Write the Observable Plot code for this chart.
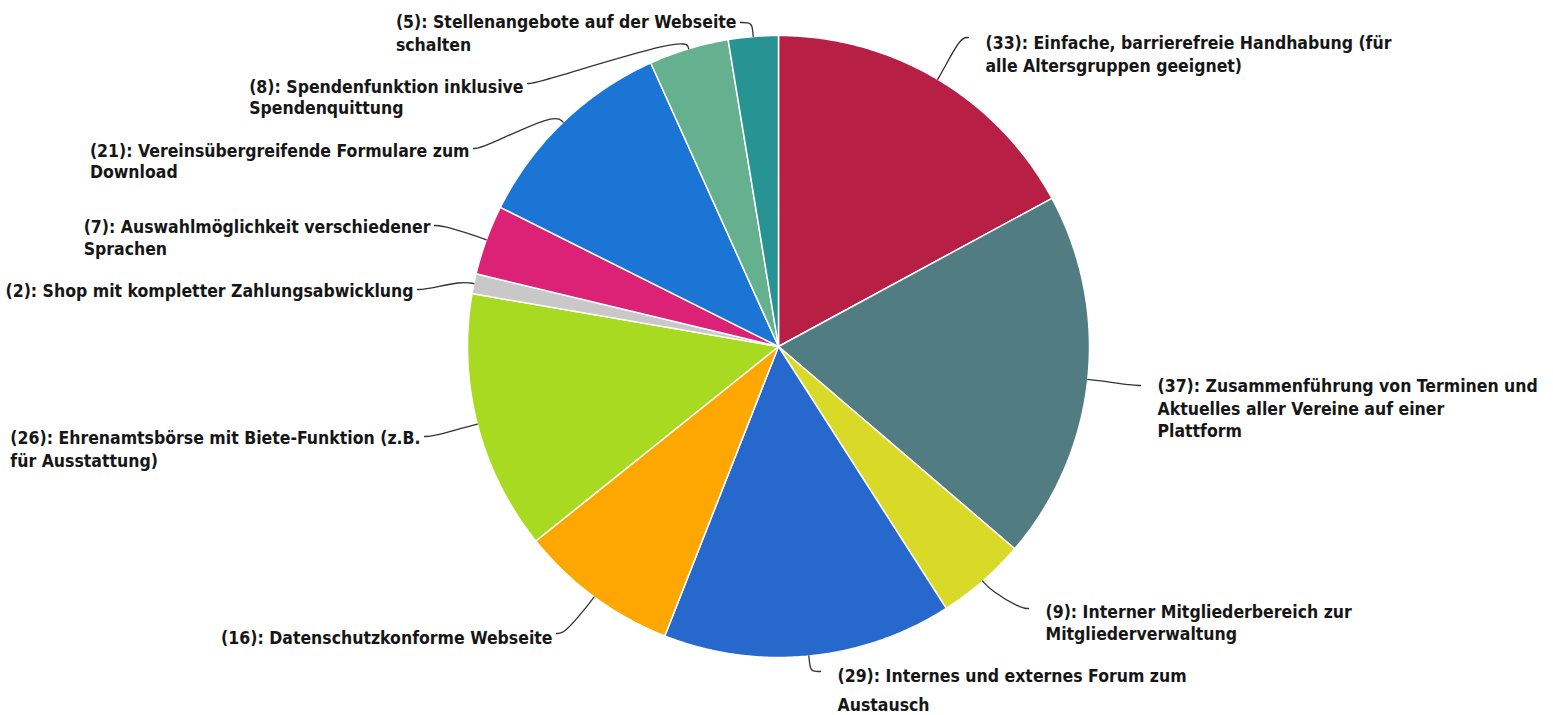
<!DOCTYPE html>
<html>
<head>
<meta charset="utf-8">
<script src="https://cdn.jsdelivr.net/npm/d3@7"></script>
<script src="https://cdn.jsdelivr.net/npm/@observablehq/plot@0.6"></script>
<style>
  html, body { margin: 0; padding: 0; background: #fff; }
  #chart svg { display: block; }
</style>
</head>
<body>
<div id="chart"></div>
<script>
// ---- data ----
const categories = [
  "Einfache, barrierefreie Handhabung (für alle Altersgruppen geeignet)",
  "Zusammenführung von Terminen und Aktuelles aller Vereine auf einer Plattform",
  "Interner Mitgliederbereich zur Mitgliederverwaltung",
  "Internes und externes Forum zum Austausch",
  "Datenschutzkonforme Webseite",
  "Ehrenamtsbörse mit Biete-Funktion (z.B. für Ausstattung)",
  "Shop mit kompletter Zahlungsabwicklung",
  "Auswahlmöglichkeit verschiedener Sprachen",
  "Vereinsübergreifende Formulare zum Download",
  "Spendenfunktion inklusive Spendenquittung",
  "Stellenangebote auf der Webseite schalten"
];
const values = [33, 37, 9, 29, 16, 26, 2, 7, 21, 8, 5];
const colors = ["#b71f45", "#517c82", "#d9d927", "#2768cc", "#fda700", "#a8da22",
                "#c8c8c8", "#db2277", "#1a75d4", "#65b08f", "#279393"];

// ---- layout (positions only) ----
const W = 1553, H = 715;
const cx = 778, cy = 346, R = 311;
const FONT_SIZE = 17.5;
const FONT_FAMILY = "DejaVu Sans Condensed";
const FONT = `bold ${FONT_SIZE}px "${FONT_FAMILY}"`;
// side: 1 = label right of connector, -1 = left; ex/ey = connector end; y = first line center; gap = line spacing; w = words per line
const layout = [
  {side: 1, ex: 968, ey: 37, y: 43, gap: 23, w: [5]},
  {side: 1, ex: 1140, ey: 385, y: 386, gap: 22.5, w: [5, 5]},
  {side: 1, ex: 1028, ey: 608, y: 612, gap: 22, w: [4]},
  {side: 1, ex: 820, ey: 671, y: 676, gap: 29, w: [6]},
  {side: -1, ex: 556, ey: 633, y: 638, gap: 22, w: []},
  {side: -1, ex: 424, ey: 436, y: 438, gap: 23, w: [5]},
  {side: -1, ex: 417, ey: 289, y: 291, gap: 22, w: []},
  {side: -1, ex: 434, ey: 225, y: 227, gap: 22, w: [3]},
  {side: -1, ex: 473, ey: 148, y: 151, gap: 21, w: [4]},
  {side: -1, ex: 527, ey: 83, y: 87, gap: 21, w: [3]},
  {side: -1, ex: 740, ey: 22, y: 22, gap: 23, w: [5]}
];

// ---- derived geometry ----
const arcs = d3.pie().sort(null).value(d => d)(values);
const pt = (a, r) => ({x: cx + r * Math.sin(a), y: cy - r * Math.cos(a)});

const slicePts = [];
arcs.forEach((a, i) => {
  slicePts.push({key: i, color: colors[i], ...pt(0, 0)});
  const n = Math.max(2, Math.ceil((a.endAngle - a.startAngle) / (Math.PI / 360)));
  for (let k = 0; k <= n; k++) {
    const t = a.startAngle + (a.endAngle - a.startAngle) * k / n;
    slicePts.push({key: i, color: colors[i], ...pt(t, R)});
  }
});

const connPts = [];
arcs.forEach((a, i) => {
  const L = layout[i];
  const mid = (a.startAngle + a.endAngle) / 2;
  const p0 = pt(mid, R), p1 = pt(mid, R + 12);
  connPts.push({key: i, ...p0});
  connPts.push({key: i, ...p1});
  connPts.push({key: i, x: L.ex - L.side * 8, y: L.ey});
  connPts.push({key: i, x: L.ex, y: L.ey});
});

const ctx = document.createElement("canvas").getContext("2d");
ctx.font = FONT;
const textRows = [];
values.forEach((v, i) => {
  const L = layout[i];
  const words = `(${v}): ${categories[i]}`.split(" ");
  const lines = [];
  let p = 0;
  for (const c of L.w) { lines.push(words.slice(p, p + c).join(" ")); p += c; }
  if (p < words.length) lines.push(words.slice(p).join(" "));
  const x = L.side > 0 ? L.ex + 17 : L.ex - 4 - ctx.measureText(lines[0]).width;
  lines.forEach((s, j) => textRows.push({text: s, x, y: L.y + j * L.gap}));
});

const chart = Plot.plot({
  width: W, height: H, margin: 0,
  x: {domain: [0, W], range: [0, W], axis: null},
  y: {domain: [0, H], range: [0, H], axis: null},
  color: {type: "identity"},
  style: {background: "#fff"},
  marks: [
    Plot.line(slicePts, {x: "x", y: "y", z: "key", fill: "color", stroke: "#fff",
      strokeWidth: 1.5, curve: "linear-closed"}),
    Plot.line(connPts, {x: "x", y: "y", z: "key", stroke: "#333", strokeWidth: 1.3, curve: "basis"}),
    Plot.text(textRows, {x: "x", y: "y", text: "text", textAnchor: "start",
      fill: "#161616", fontSize: FONT_SIZE, fontWeight: "bold", fontFamily: FONT_FAMILY})
  ]
});
document.getElementById("chart").appendChild(chart);
</script>
</body>
</html>
